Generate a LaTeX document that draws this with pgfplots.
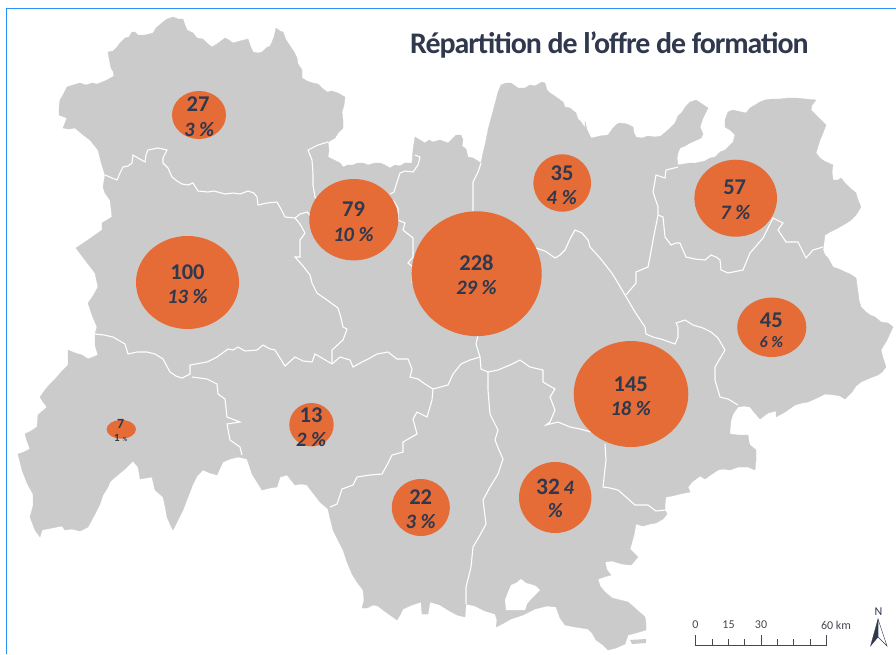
\documentclass[border=0pt]{standalone}
\usepackage{fontspec}
\setmainfont{Carlito}
\usepackage{pgfplots}
\pgfplotsset{compat=1.18}
\definecolor{mapgray}{RGB}{203,203,203}
\definecolor{bubble}{RGB}{229,108,55}
\definecolor{ink}{RGB}{47,56,77}
\definecolor{frameblue}{RGB}{40,145,250}
\definecolor{scalegray}{RGB}{70,72,78}
% ellipse mark, half axes come from the table
\pgfdeclareplotmark{bub}{%
  \pgfsetfillcolor{bubble}%
  \pgfpathellipse{\pgfpointorigin}{\pgfqpoint{\rx pt}{0pt}}{\pgfqpoint{0pt}{\ry pt}}%
  \pgfusepathqfill}
\newcommand{\lab}[4]{\node[text=ink,inner sep=0pt] at (axis cs:#1,#2) {\fontsize{#3}{#3}\selectfont #4};}
\begin{document}
\begin{tikzpicture}
\begin{axis}[
  scale only axis, width=896pt, height=654pt,
  xmin=0, xmax=896, ymin=0, ymax=654, y dir=reverse,
  hide axis, clip marker paths=true,
]
\addplot[fill=white,draw=none] coordinates {(0,0)(896,0)(896,654)(0,654)} --cycle;
% frame
\addplot[frameblue,line width=1.5pt] coordinates {(6.5,654)(6.5,8.5)(896,8.5)};
% outline of the region
\addplot[fill=mapgray,draw=mapgray,line width=.3pt,line join=round] coordinates {
(59,107)(60,100)(63,95)(67,87)(73,85)(80,83)(86,85)(92,83)(97,84)(100,83)(107,80)(114,76)(113,71)(111,68)(110,63)(109,58)(108,52)(113,51)(117,47)(120,43)(125,38)(129,37)(132,32)(135,32)(138,35)(145,35)(153,33)(156,28)(163,22)(167,19)(173,17)(178,19)(183,19)(185,25)(187,30)(193,33)(197,38)(203,39)(207,43)(212,47)(217,44)(221,41)(225,38)(229,40)(233,43)(240,41)(248,39)(250,45)(253,52)(258,53)(262,52)(266,48)(270,46)(272,42)(274,37)(276,28)(280,31)(283,32)(286,40)(290,46)(294,52)(297,58)(298,64)(302,70)(302,78)(307,81)(313,83)(318,84)(322,88)(327,92)(332,91)(338,93)(345,97)(344,105)(342,112)(343,120)(343,128)(338,133)(335,138)(328,142)(329,150)(328,157)(334,160)(340,163)(343,167)(348,165)(353,165)(358,163)(363,163)(368,165)(375,163)(380,163)(385,165)(390,168)(395,165)(400,166)(405,163)(412,163)(413,150)(415,137)(420,140)(425,143)(429,140)(433,142)(440,140)(448,143)(452,139)(456,135)(461,135)(463,140)(462,146)(466,149)(468,157)(473,158)(481,163)(483,153)(485,145)(488,130)(490,122)(492,115)(496,100)(498,92)(501,85)(506,83)(511,83)(518,88)(525,88)(530,85)(535,86)(542,82)(545,83)(547,90)(550,93)(556,97)(563,102)(565,107)(570,108)(576,113)(578,119)(581,122)(585,128)(585,121)(587,130)(591,138)(596,137)(600,136)(608,135)(613,128)(617,124)(620,123)(627,124)(633,127)(634,133)(636,137)(642,138)(648,136)(655,137)(661,136)(668,130)(675,123)(678,116)(682,112)(686,106)(690,102)(696,100)(702,104)(708,108)(705,114)(703,118)(700,127)(703,134)(701,138)(690,143)(685,146)(680,148)(678,153)(677,158)(678,165)(684,164)(690,163)(696,163)(705,161)(710,158)(715,157)(720,152)(725,150)(733,142)(735,135)(730,130)(725,127)(725,120)(728,112)(733,110)(737,111)(746,113)(750,108)(755,105)(760,102)(765,100)(772,99)(780,99)(788,98)(796,98)(806,99)(816,100)(812,105)(811,110)(818,117)(826,125)(823,133)(820,140)(816,153)(820,158)(824,161)(833,165)(832,172)(833,180)(838,180)(841,178)(846,184)(850,188)(856,193)(858,200)(861,207)(856,215)(851,220)(845,224)(838,228)(830,232)(825,235)(823,250)(825,255)(828,258)(833,267)(839,269)(845,272)(850,274)(856,278)(857,285)(858,292)(859,300)(861,307)(866,312)(870,315)(875,317)(881,322)(888,323)(893,327)(887,340)(881,350)(883,358)(886,367)(882,372)(878,375)(870,378)(861,382)(856,386)(852,392)(845,399)(840,396)(835,395)(825,394)(817,398)(808,402)(802,403)(795,405)(785,412)(776,417)(776,411)(768,413)(760,419)(754,412)(750,407)(744,406)(738,407)(733,414)(731,420)(730,430)(730,434)(738,435)(748,435)(749,442)(750,445)(756,450)(756,460)(755,470)(748,467)(738,467)(730,470)(723,469)(718,470)(712,474)(705,479)(700,476)(696,479)(692,482)(688,487)(690,492)(680,494)(672,496)(666,497)(665,504)(665,510)(667,514)(663,519)(656,523)(650,524)(643,526)(636,524)(634,535)(630,549)(634,553)(638,557)(631,565)(622,564)(612,561)(605,562)(607,570)(611,575)(604,577)(598,579)(600,586)(605,592)(612,598)(620,600)(628,602)(636,609)(645,617)(646,623)(646,630)(636,633)(628,635)(625,644)(616,648)(608,650)(603,645)(596,640)(592,633)(588,629)(575,627)(565,625)(560,618)(556,607)(547,606)(535,609)(523,615)(511,619)(504,623)(496,627)(497,620)(495,614)(485,611)(475,606)(466,604)(465,617)(457,615)(448,610)(440,605)(430,602)(428,614)(422,614)(421,602)(412,605)(403,609)(400,615)(397,620)(390,615)(383,610)(378,606)(373,605)(367,608)(362,608)(364,600)(363,590)(357,582)(352,574)(347,562)(343,550)(338,540)(333,530)(330,518)(328,509)(320,502)(313,493)(307,485)(301,484)(295,485)(291,480)(287,475)(280,477)(277,487)(270,488)(262,490)(257,482)(252,474)(249,465)(247,459)(238,457)(230,459)(223,462)(220,468)(217,475)(210,473)(203,470)(197,476)(193,484)(188,497)(183,510)(178,520)(173,530)(170,524)(167,517)(165,506)(163,497)(155,490)(152,477)(146,478)(140,479)(139,472)(138,467)(133,461)(129,465)(125,469)(119,474)(113,479)(110,482)(108,487)(103,495)(100,504)(95,514)(88,527)(80,531)(72,529)(65,530)(62,526)(52,528)(42,530)(40,537)(35,530)(30,517)(33,506)(33,494)(27,483)(22,470)(20,462)(18,454)(24,452)(30,449)(27,441)(25,434)(31,431)(37,427)(38,415)(47,407)(43,402)(40,397)(45,390)(50,384)(56,378)(62,371)(68,365)(68,350)(75,353)(82,355)(88,359)(98,355)(95,345)(95,334)(97,327)(92,315)(88,303)(93,296)(98,287)(95,273)(85,260)(76,248)(88,240)(95,235)(102,230)(102,223)(112,217)(111,208)(110,200)(105,193)(103,187)(105,175)(101,162)(98,150)(90,140)(82,134)(75,128)(69,129)(63,128)(67,118)(59,115)
} --cycle;
% enclave and island
\addplot[fill=white,draw=none] coordinates {(505,600)(508,592)(511,585)(516,583)(521,579)(526,583)(530,584)(536,586)(540,590)(536,594)(531,599)(527,604)(525,610)(515,610)(506,610)} --cycle;
\addplot[fill=mapgray,draw=none] coordinates {(630,640)(646,639)(646,643)(632,644)} --cycle;
% inner borders
\addplot[white,line width=1.1pt] coordinates {(105,175)(112,178)(117,180)(120,173)(123,167)(128,166)(132,163)(133,155)(138,158)(145,162)(146,155)(148,150)(158,148)(167,150)(163,158)(163,163)(168,168)(172,177)(177,181)(182,184)(188,185)(193,183)(198,191)(208,192)(214,191)(225,194)(233,193)(240,194)(248,191)(254,193)(257,197)(258,205)(267,203)(277,202)(281,209)(285,217)(295,218)(300,224)(305,233)(300,240)(300,257)(295,257)(303,266)(310,275)(312,283)(317,293)(327,300)(338,308)(341,318)(343,327)(347,329)(343,340)(332,350)(332,364)};
\addplot[white,line width=1.1pt] coordinates {(328,142)(318,145)(308,150)(312,160)(313,173)(313,185)(315,197)(318,200)};
\addplot[white,line width=1.1pt] coordinates {(295,218)(300,214)(307,212)(312,217)};
\addplot[white,line width=1.1pt] coordinates {(415,155)(420,157)(418,165)(413,172)(405,171)(400,173)(397,182)(394,192)(390,194)};
\addplot[white,line width=1.1pt] coordinates {(393,200)(398,208)(398,220)(405,223)(403,230)(408,234)(413,238)(413,257)(408,263)(413,267)(412,283)};
\addplot[white,line width=1.1pt] coordinates {(481,163)(478,172)(473,182)(473,212)};
\addplot[white,line width=1.1pt] coordinates {(536,248)(545,251)(555,258)(560,255)(565,250)(570,239)(575,230)(582,233)(588,240)(590,247)(600,258)(611,272)(615,278)(625,295)(635,312)(645,327)(646,334)(653,337)(661,339)(675,344)(678,337)(678,327)(676,323)(685,320)(693,325)(703,328)(711,332)(718,338)(725,350)(715,367)(715,380)(720,397)(728,399)(738,405)};
\addplot[white,line width=1.1pt] coordinates {(678,167)(666,170)(665,178)(656,175)(653,192)(658,207)(658,215)(654,235)(650,257)(648,267)(636,272)(636,283)(626,295)};
\addplot[white,line width=1.1pt] coordinates {(658,215)(663,217)(665,237)(671,245)(676,243)(680,243)(686,257)(695,259)(705,260)(711,255)(716,257)(720,260)(721,270)(728,273)(743,270)(750,253)(757,245)(763,238)(768,228)(773,218)(783,223)(778,230)(786,242)(798,242)(806,258)(813,250)(823,247)};
\addplot[white,line width=1.1pt] coordinates {(95,334)(104,335)(113,337)(125,344)(128,354)(137,352)(147,352)(155,354)(163,359)(170,372)(176,376)(182,378)(190,374)(190,365)(207,362)(217,357)(228,349)(233,350)(238,347)(245,351)(257,350)(263,345)(270,349)(275,350)(280,358)(285,366)(295,357)(303,361)(312,362)(315,354)(322,358)(332,364)};
\addplot[white,line width=1.1pt] coordinates {(332,364)(340,357)(350,360)(353,367)(362,362)(370,358)(377,354)(388,352)(397,359)(408,359)(412,369)(410,377)(418,379)(425,384)(433,389)(448,385)(453,374)(461,364)(470,360)(480,357)(476,344)(478,335)};
\addplot[white,line width=1.1pt] coordinates {(480,357)(481,369)(488,372)(498,370)(510,365)(520,360)(530,367)(543,370)(543,382)(555,389)(550,397)(555,410)(550,422)(546,425)(558,422)(570,427)(580,429)(591,432)};
\addplot[white,line width=1.1pt] coordinates {(605,444)(606,460)(603,487)(610,488)(618,490)(626,497)(635,505)(648,505)(656,511)(666,510)};
\addplot[white,line width=1.1pt] coordinates {(488,372)(488,390)(490,414)(498,430)(495,440)(499,450)(503,459)(498,474)(490,487)(483,500)(486,524)(480,535)(473,547)(471,567)(466,587)(466,604)};
\addplot[white,line width=1.1pt] coordinates {(192,377)(207,379)(217,384)(218,394)(225,399)(227,417)(240,422)(227,424)(230,440)(240,447)(242,455)};
\addplot[white,line width=1.1pt] coordinates {(433,389)(432,400)(427,417)(417,412)(413,419)(417,434)(403,442)(403,452)(392,455)(387,465)(382,474)(370,475)(357,477)(353,485)(342,489)(337,504)(330,507)};
% bubbles
\addplot[
  scatter, only marks, mark=bub, point meta=explicit,
  visualization depends on={\thisrow{rx} \as \rx},
  visualization depends on={\thisrow{ry} \as \ry},
  scatter/@pre marker code/.code={\pgfscope},
  scatter/@post marker code/.code={\endpgfscope},
] table[x=x,y=y,meta=n] {
x     y     rx   ry   n
199   115   27   24   27
353.8 219.7 44.5 40.7 79
187.5 282.5 51.5 46.5 100
476.7 273.7 65   62.4 228
562.2 183   28.8 28.7 35
735.7 198.2 41.3 38.5 57
771.8 327.3 34.5 29.7 45
631   394   57.3 53   145
555.2 497.5 36.2 35.5 32
420.8 507.5 29   28.5 22
311.5 424.7 22.2 21.7 13
121.3 429.3 14.7 9.3  7
};
% title and labels
\node[anchor=base west,text=ink,inner sep=0pt] at (axis cs:410,53.5) {\fontsize{29.9}{29.9}\selectfont\bfseries\addfontfeature{LetterSpace=-3.5}Répartition de l’offre de formation};
\lab{198}{104}{22.5}{\bfseries 27}\lab{199}{130}{20.5}{\bfseries\itshape 3 \%}
\lab{353.5}{209}{22.5}{\bfseries 79}\lab{353.5}{235}{20.5}{\bfseries\itshape 10 \%}
\lab{187.5}{272}{22.5}{\bfseries 100}\lab{187.5}{297}{20.5}{\bfseries\itshape 13 \%}
\lab{476.5}{263}{22.5}{\bfseries 228}\lab{476.5}{288}{20.5}{\bfseries\itshape 29 \%}
\lab{562}{173}{22.5}{\bfseries 35}\lab{561.7}{198}{20.5}{\bfseries\itshape 4 \%}
\lab{734.7}{187}{22.5}{\bfseries 57}\lab{735.3}{213}{20.5}{\bfseries\itshape 7 \%}
\lab{771.3}{320}{22.5}{\bfseries 45}\lab{771.3}{342}{16}{\bfseries\itshape 6 \%}
\lab{630.7}{384}{22.5}{\bfseries 145}\lab{630.7}{408.7}{20.5}{\bfseries\itshape 18 \%}
\lab{548}{487}{23.5}{\bfseries 32}\lab{568.7}{488}{20.5}{\bfseries\itshape 4}\lab{555.3}{511}{20.5}{\bfseries\itshape \%}
\lab{420.7}{497}{22.5}{\bfseries 22}\lab{420.7}{522}{20.5}{\bfseries\itshape 3 \%}
\lab{311}{415}{22.5}{\bfseries 13}\lab{311}{439.7}{20.5}{\bfseries\itshape 2 \%}
\lab{120.7}{423.5}{14}{\bfseries 7}\lab{117}{438}{11}{\bfseries 1}\lab{125}{439}{6}{\bfseries \%}
% scale bar
\addplot[scalegray,line width=.8pt] coordinates {(695.7,635)(695.7,645)(826.7,645)(826.7,635)};
\addplot[scalegray,line width=.7pt] coordinates {(712,639)(712,645)};
\addplot[scalegray,line width=.7pt] coordinates {(728.4,639)(728.4,645)};
\addplot[scalegray,line width=.7pt] coordinates {(744.7,639)(744.7,645)};
\addplot[scalegray,line width=.7pt] coordinates {(761.2,635)(761.2,645)};
\addplot[scalegray,line width=.7pt] coordinates {(777.4,639)(777.4,645)};
\addplot[scalegray,line width=.7pt] coordinates {(793.8,639)(793.8,645)};
\addplot[scalegray,line width=.7pt] coordinates {(810.2,639)(810.2,645)};
\node[text=scalegray,inner sep=0pt] at (axis cs:695.5,625) {\fontsize{12}{12}\selectfont 0};
\node[text=scalegray,inner sep=0pt] at (axis cs:728.5,625) {\fontsize{12}{12}\selectfont 15};
\node[text=scalegray,inner sep=0pt] at (axis cs:761,625) {\fontsize{12}{12}\selectfont 30};
\node[text=scalegray,inner sep=0pt] at (axis cs:836,625) {\fontsize{12}{12}\selectfont 60 km};
% north arrow
\node[text=ink,inner sep=0pt] at (axis cs:878.5,611.5) {\fontsize{12}{12}\selectfont N};
\addplot[fill=white,draw=ink,line width=.4pt] coordinates {(878,619)(887,646)(878,637)} --cycle;
\addplot[fill=ink,draw=ink,line width=.3pt] coordinates {(878,619)(870.5,646)(878,637)} --cycle;
\end{axis}
\end{tikzpicture}
\end{document}
